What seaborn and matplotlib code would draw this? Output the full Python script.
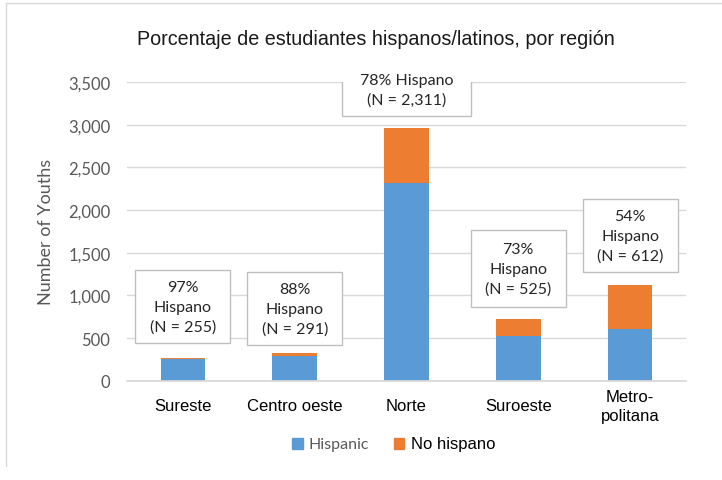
import matplotlib
matplotlib.use("Agg")
import matplotlib.pyplot as plt
import matplotlib.patches as mpatches
from matplotlib import font_manager
import pandas as pd
import seaborn as sns

# data
regiones = ["Sureste", "Centro oeste", "Norte", "Suroeste", "Metro-\npolitana"]
hispanos = [255, 291, 2311, 525, 612]
no_hispanos = [8, 40, 652, 194, 505]
porcentajes = ["97%", "88%", "78%", "73%", "54%"]
y_ticks = [0, 500, 1000, 1500, 2000, 2500, 3000, 3500]

# layout of the label boxes (data units)
box_y = [866, 843, 3407, 1311, 1698]
box_w = [0.85, 0.85, 1.15, 0.85, 0.85]
box_h = [855, 855, 610, 900, 855]

sns.set_theme(style="white")
names = {f.name for f in font_manager.fontManager.ttflist}
narrow = "Liberation Sans Narrow" if "Liberation Sans Narrow" in names else "Liberation Sans"
plt.rcParams["font.family"] = ["Lato", "DejaVu Sans"]

df = pd.DataFrame({"region": regiones, "hisp": hispanos, "nohisp": no_hispanos})
df["total"] = df["hisp"] + df["nohisp"]

fig = plt.figure(figsize=(7.22, 4.81), dpi=100)
ax = fig.add_axes([0.176, 0.206, 0.774, 0.6216])

sns.barplot(data=df, x="region", y="total", color="#ED7D31", width=0.4,
            saturation=1, linewidth=0, ax=ax)
sns.barplot(data=df, x="region", y="hisp", color="#5B9BD5", width=0.4,
            saturation=1, linewidth=0, ax=ax)

ax.set_ylim(0, 3500)
ax.set_xlim(-0.5, 4.5)
ax.set_yticks(y_ticks)
ax.set_yticklabels([f"{v:,}" for v in y_ticks], color="#595959", fontsize=12)
ax.yaxis.grid(True, color="#D9D9D9", linewidth=1)
ax.set_axisbelow(True)
for s in ["top", "left", "right"]:
    ax.spines[s].set_visible(False)
ax.spines["bottom"].set_color("#D9D9D9")
ax.tick_params(axis="both", length=0)
ax.tick_params(axis="y", pad=12)
ax.tick_params(axis="x", pad=18)
ax.set_xlabel("")
ax.set_ylabel("Number of Youths", color="#595959", fontsize=13, labelpad=10)
ax.set_xticks(range(len(regiones)))
ax.set_xticklabels(regiones, fontsize=12, family=narrow, color="#000000",
                   va="center", linespacing=1.3)

# annotation boxes
for i, (h, p) in enumerate(zip(hispanos, porcentajes)):
    rect = mpatches.Rectangle((i - box_w[i] / 2, box_y[i] - box_h[i] / 2),
                              box_w[i], box_h[i], facecolor="white",
                              edgecolor="#BFBFBF", linewidth=1, zorder=4)
    ax.add_patch(rect)
    if regiones[i] == "Norte":
        txt = f"{p} Hispano\n(N = {h:,})"
    else:
        txt = f"{p}\nHispano\n(N = {h:,})"
    ax.text(i, box_y[i], txt, ha="center", va="center", fontsize=11.5,
            color="#262626", linespacing=1.5, zorder=5)

fig.text(0.52, 0.918, "Porcentaje de estudiantes hispanos/latinos, por región",
         ha="center", va="center", fontsize=14.2, family=narrow, color="#1a1a1a")

# legend
handles = [mpatches.Patch(color="#5B9BD5", label="Hispanic"),
           mpatches.Patch(color="#ED7D31", label="No hispano")]
leg = fig.legend(handles=handles, loc="center", bbox_to_anchor=(0.545, 1 - 445 / 481),
                 ncol=2, frameon=False, handlelength=0.7, handleheight=0.7,
                 handletextpad=0.4, columnspacing=1.6)
leg.get_texts()[0].set_color("#595959")
leg.get_texts()[0].set_fontsize(11.5)
leg.get_texts()[1].set_color("#000000")
leg.get_texts()[1].set_fontsize(12)
leg.get_texts()[1].set_family(narrow)

# chart border
fig.add_artist(plt.Line2D([0.008, 1.0], [0.992, 0.992], color="#D9D9D9", lw=1))
fig.add_artist(plt.Line2D([0.008, 0.008], [0.03, 0.992], color="#D9D9D9", lw=1))

fig.savefig("out.png", dpi=100)
